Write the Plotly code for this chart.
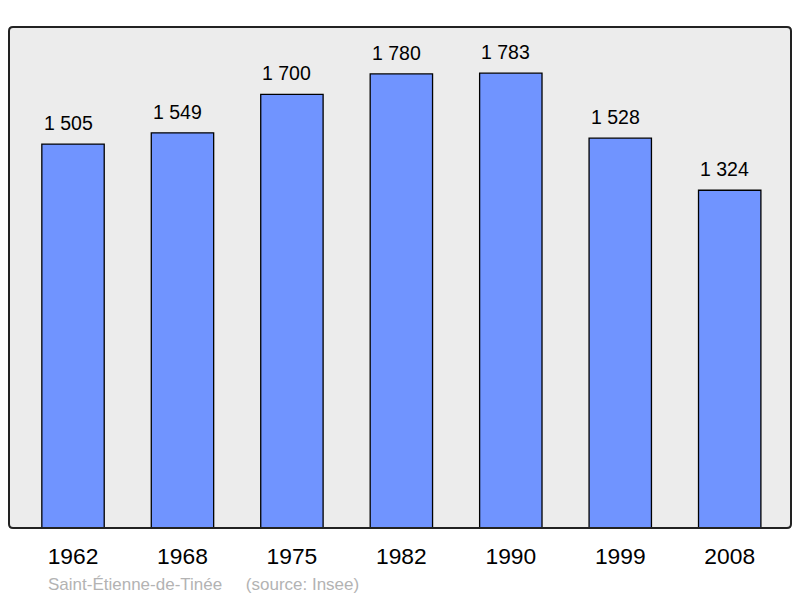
import plotly.graph_objects as go

years = ["1962", "1968", "1975", "1982", "1990", "1999", "2008"]
population = [1505, 1549, 1700, 1780, 1783, 1528, 1324]
labels = ["1 505", "1 549", "1 700", "1 780", "1 783", "1 528", "1 324"]
source_text = "Saint-Étienne-de-Tinée&nbsp;&nbsp;&nbsp;&nbsp;&nbsp;(source: Insee)"

xs = list(range(len(years)))
FONT = "Liberation Sans, Arial, sans-serif"

fig = go.Figure()
fig.add_trace(go.Bar(
    x=xs, y=population, width=0.57,
    marker=dict(color="#7094FF", line=dict(color="black", width=1.3)),
    hoverinfo="skip",
))

for x, y, t in zip(xs, population, labels):
    fig.add_annotation(x=x, y=y, text=t, showarrow=False, yanchor="bottom",
                       yshift=8, xshift=-5,
                       font=dict(size=19.5, color="black", family=FONT))

# figure is drawn with an 8px page offset; plot area at 1..783 x 19..520 in figure coords
W, H = 782.0, 501.0
fig.add_annotation(xref="paper", yref="paper", x=(46 - 9) / W, y=-(584 - 528) / H,
                   xanchor="left", yanchor="middle", text=source_text, showarrow=False,
                   font=dict(size=17, color="#b3b3b3", family=FONT))

r = 4.0
rx, ry = r / W, r / H
path = (f"M {rx},0 L {1-rx},0 Q 1,0 1,{ry} L 1,{1-ry} Q 1,1 {1-rx},1 "
        f"L {rx},1 Q 0,1 0,{1-ry} L 0,{ry} Q 0,0 {rx},0 Z")
fig.add_shape(type="path", xref="paper", yref="paper", path=path,
              fillcolor="#ececec", line=dict(width=0), layer="below")
fig.add_shape(type="path", xref="paper", yref="paper", path=path,
              fillcolor="rgba(0,0,0,0)", line=dict(color="#222", width=2), layer="above")

fig.update_layout(
    width=792, height=590,
    margin=dict(l=1, r=9, t=19, b=70),
    paper_bgcolor="white", plot_bgcolor="white",
    showlegend=False,
    xaxis=dict(range=[-0.585, 6.56], tickvals=xs, ticktext=years, showgrid=False,
               zeroline=False, showline=False, ticks="", fixedrange=True,
               ticklabelstandoff=12,
               tickfont=dict(size=22.8, color="black", family=FONT)),
    yaxis=dict(range=[0, 1964], showgrid=False, zeroline=False, showline=False,
               showticklabels=False, ticks="", fixedrange=True),
)

fig.write_html("out.html")
